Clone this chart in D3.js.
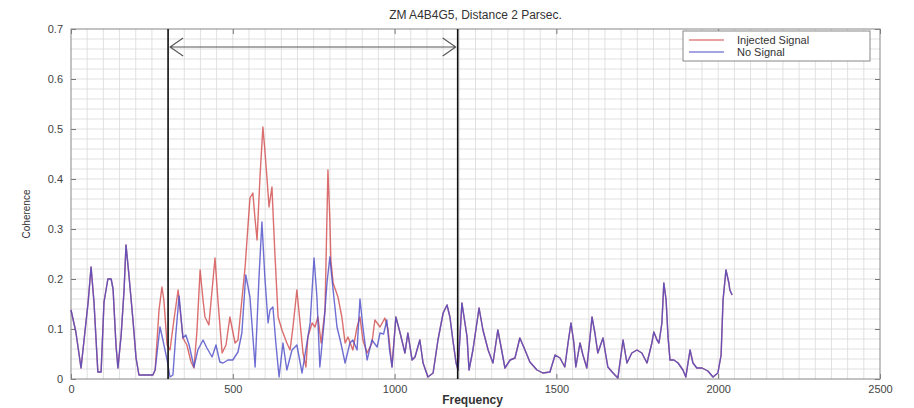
<!DOCTYPE html>
<html>
<head>
<meta charset="utf-8">
<script src="https://cdn.jsdelivr.net/npm/d3@7"></script>
<style>
  body { margin: 0; background: #fff; }
  text { font-family: "Liberation Sans", Arial, sans-serif; }
</style>
</head>
<body>
<div id="chart"></div>
<script>
// "No Signal" (blue) coherence: [frequency, coherence]
const noSignalFreq = [0,15,31,53,62,71,83,93,102,114,124,130,139,145,155,164,170,179,192,201,210,253,260,
  275,284,297,306,315,324,334,346,355,365,380,392,408,420,436,448,460,470,485,500,516,528,540,553,569,581,590,599,
  609,615,624,633,643,655,667,683,698,714,729,739,751,760,769,782,791,800,810,822,834,847,862,871,884,893,902,915,
  930,946,955,966,976,984,992,1004,1017,1032,1041,1054,1063,1078,1088,1103,1119,1134,1150,1162,1171,1180,1190,1196,
  1208,1224,1230,1242,1261,1273,1289,1304,1319,1329,1341,1357,1372,1387,1403,1418,1440,1458,1480,1496,1511,1526,
  1536,1545,1554,1560,1573,1582,1594,1604,1610,1619,1628,1644,1650,1659,1675,1690,1706,1718,1733,1749,1764,1780,
  1795,1801,1811,1817,1826,1832,1839,1845,1851,1863,1876,1891,1900,1913,1922,1934,1950,1968,1984,1999,2009,2015,
  2024,2033,2036,2043];
const noSignal = [0.138,0.094,0.022,0.154,0.224,0.154,0.014,0.014,0.154,0.2,0.2,0.18,0.068,0.022,0.088,0.178,0.268,0.208,0.114,0.042,0.008,0.008,0.018,
  0.104,0.078,0.038,0.004,0.008,0.09,0.166,0.082,0.088,0.068,0.024,0.058,0.078,0.062,0.044,0.068,0.034,0.032,0.038,0.038,0.054,0.092,0.208,0.164,0.024,0.204,0.314,0.204,
  0.112,0.138,0.144,0.072,0.004,0.072,0.018,0.058,0.068,0.012,0.072,0.112,0.242,0.164,0.024,0.112,0.192,0.244,0.178,0.104,0.072,0.032,0.072,0.078,0.058,0.16,0.104,0.038,
  0.078,0.064,0.092,0.09,0.118,0.06,0.024,0.124,0.092,0.052,0.092,0.038,0.044,0.078,0.032,0.004,0.012,0.078,0.132,0.148,0.124,0.078,0.032,0.018,
  0.152,0.084,0.018,0.058,0.142,0.098,0.058,0.032,0.098,0.064,0.022,0.038,0.042,0.082,0.058,0.034,0.018,0.012,0.014,0.048,0.042,0.024,
  0.072,0.112,0.072,0.024,0.072,0.048,0.022,0.084,0.124,0.092,0.052,0.082,0.058,0.024,0.012,0.002,0.078,0.032,0.052,0.058,0.052,0.032,
  0.072,0.094,0.078,0.072,0.112,0.192,0.158,0.084,0.038,0.038,0.032,0.018,0.004,0.058,0.032,0.022,0.022,0.016,0.004,0.012,0.048,0.158,
  0.218,0.192,0.178,0.168];

// "Injected Signal" (red) where it differs from the blue trace
const injectedFreq = [272,281,287,297,306,318,331,346,358,371,380,389,399,408,414,426,436,445,454,467,479,491,507,516,522,
  538,553,562,569,575,584,593,599,606,612,621,624,630,640,652,667,677,686,698,708,717,726,732,745,754,763,773,785,794,
  800,803,810,825,837,847,856,871,884,893,902,915,930,939,955,970,980];
const injected = [0.138,0.184,0.158,0.068,0.058,0.118,0.178,0.082,0.068,0.034,0.022,0.094,0.218,0.158,0.124,0.108,0.178,0.242,0.158,0.052,0.068,0.124,0.072,0.078,0.118,
  0.224,0.362,0.372,0.318,0.278,0.404,0.504,0.458,0.398,0.344,0.384,0.338,0.252,0.124,0.098,0.072,0.058,0.104,0.178,0.112,0.052,0.024,0.084,0.112,0.104,0.124,0.072,0.138,0.418,
  0.318,0.238,0.192,0.164,0.124,0.072,0.084,0.058,0.104,0.124,0.078,0.052,0.072,0.118,0.104,0.122,0.098];

const bandEdges = [300, 1195];   // vertical markers
const arrowLevel = 0.664;        // double arrow between the markers
const xTicks = [0, 500, 1000, 1500, 2000, 2500];
const yTicks = [0, 0.1, 0.2, 0.3, 0.4, 0.5, 0.6, 0.7];
const seriesNames = ["Injected Signal", "No Signal"];
const seriesColors = ["#d24a4a", "#4a4ac8"];

// build point tables
const bluePts = noSignalFreq.map((f, i) => [f, noSignal[i]]);
const redPts = bluePts.filter(d => d[0] <= 260)
  .concat(injectedFreq.map((f, i) => [f, injected[i]]))
  .concat(bluePts.filter(d => d[0] >= 992));

const W = 914, H = 408;
const margin = { top: 29, right: 34, bottom: 29, left: 71 },
      width  = W - margin.left - margin.right,
      height = H - margin.top - margin.bottom;

const svg = d3.select("#chart").append("svg")
    .attr("width", W).attr("height", H);
const g = svg.append("g")
    .attr("transform", `translate(${margin.left},${margin.top})`);

const x = d3.scaleLinear().domain([0, 2500]).range([0, width]);
const y = d3.scaleLinear().domain([0, 0.7]).range([height, 0]);

// grid (minor spacing 50 Hz, 0.02)
const grid = g.append("g").attr("stroke", "#d9d9d9").attr("stroke-width", 0.8);
d3.range(50, 2500, 50).forEach(v => {
  grid.append("line").attr("x1", x(v)).attr("x2", x(v)).attr("y1", 0).attr("y2", height);
});
d3.range(1, 35).forEach(k => {
  const v = k * 0.02;
  grid.append("line").attr("x1", 0).attr("x2", width).attr("y1", y(v)).attr("y2", y(v));
});

// axes with inward ticks
const fmtY = d => d === 0 ? "0" : d3.format(".1f")(d);
const styleAxis = sel => {
  sel.select(".domain").remove();
  sel.selectAll(".tick line").attr("stroke", "#777");
  sel.selectAll("text").attr("fill", "#444").style("font-size", "11px");
};
g.append("g").attr("transform", `translate(0,${height})`)
  .call(d3.axisBottom(x).tickValues(xTicks).tickSize(-5).tickPadding(6).tickFormat(d3.format("d")))
  .call(styleAxis);
g.append("g")
  .call(d3.axisLeft(y).tickValues(yTicks).tickSize(-5).tickPadding(8).tickFormat(fmtY))
  .call(styleAxis);
g.append("g")
  .call(d3.axisTop(x).tickValues(xTicks).tickSize(-5).tickFormat(""))
  .call(styleAxis);
g.append("g").attr("transform", `translate(${width},0)`)
  .call(d3.axisRight(y).tickValues(yTicks).tickSize(-5).tickFormat(""))
  .call(styleAxis);

g.append("rect")
  .attr("width", width).attr("height", height)
  .attr("fill", "none").attr("stroke", "#888").attr("stroke-width", 1);

// lines
const line = d3.line().x(d => x(d[0])).y(d => y(d[1]));
[redPts, bluePts].forEach((pts, i) => {
  g.append("path").datum(pts)
    .attr("fill", "none")
    .attr("stroke", seriesColors[i])
    .attr("stroke-width", 1.4)
    .attr("stroke-opacity", 0.8)
    .attr("stroke-linejoin", "round")
    .attr("d", line);
});

// band markers
bandEdges.forEach(f => {
  g.append("line")
    .attr("x1", x(f)).attr("x2", x(f))
    .attr("y1", 0).attr("y2", height)
    .attr("stroke", "#111").attr("stroke-width", 1.6);
});

// double arrow
const ax1 = x(bandEdges[0]) + 2, ax2 = x(bandEdges[1]) - 2, ay = y(arrowLevel);
g.append("path")
  .attr("d", `M${ax1},${ay}H${ax2}` +
             `M${ax1 + 13},${ay - 9}L${ax1},${ay}L${ax1 + 13},${ay + 9}` +
             `M${ax2 - 13},${ay - 9}L${ax2},${ay}L${ax2 - 13},${ay + 9}`)
  .attr("fill", "none").attr("stroke", "#555").attr("stroke-width", 1.1);

// legend
const lg = g.append("g").attr("transform", `translate(${width - 197},2)`);
lg.append("rect")
  .attr("width", 187).attr("height", 30)
  .attr("fill", "#fff").attr("stroke", "#888").attr("stroke-width", 1);
seriesNames.forEach((name, i) => {
  lg.append("line")
    .attr("x1", 6).attr("x2", 41)
    .attr("y1", 9 + i * 12).attr("y2", 9 + i * 12)
    .attr("stroke", seriesColors[i]).attr("stroke-width", 1.2);
  lg.append("text")
    .attr("x", 54).attr("y", 13 + i * 12)
    .attr("fill", "#333").style("font-size", "11px")
    .text(name);
});

// title and labels
svg.append("text")
  .attr("x", margin.left + width / 2).attr("y", 19)
  .attr("text-anchor", "middle")
  .attr("fill", "#333").style("font-size", "12px")
  .text("ZM A4B4G5, Distance 2 Parsec.");

svg.append("text")
  .attr("transform", `translate(30,${margin.top + height / 2 + 10}) rotate(-90)`)
  .attr("text-anchor", "middle")
  .attr("fill", "#333").style("font-size", "10px")
  .text("Coherence");

svg.append("text")
  .attr("x", margin.left + width / 2 - 3).attr("y", 404)
  .attr("text-anchor", "middle")
  .attr("fill", "#333").style("font-size", "12px").style("font-weight", "bold")
  .text("Frequency");
</script>
</body>
</html>
